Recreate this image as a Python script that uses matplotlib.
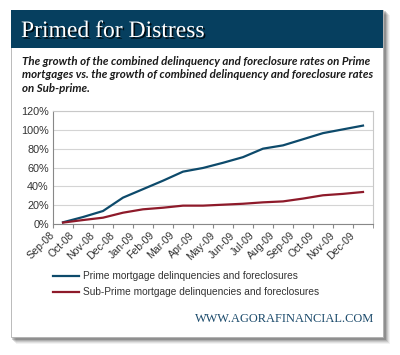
import matplotlib.pyplot as plt
from matplotlib.patches import Rectangle
import matplotlib.patheffects as pe

months = ['Sep-08', 'Oct-08', 'Nov-08', 'Dec-08', 'Jan-09', 'Feb-09', 'Mar-09', 'Apr-09',
          'May-09', 'Jun-09', 'Jul-09', 'Aug-09', 'Sep-09', 'Oct-09', 'Nov-09', 'Dec-09']
prime = [1.8, 7.4, 13.8, 28, 37, 46, 55.6, 59.5, 65, 71, 80, 83.5, 90, 96.5, 100.5, 104.5]
subprime = [1.5, 4.2, 6.7, 12, 15.6, 17.3, 19.5, 19.5, 20.5, 21.5, 23, 24, 27, 30.5, 32, 34]
yticks = [0, 20, 40, 60, 80, 100, 120]

W, H = 400, 355
fig = plt.figure(figsize=(W / 100, H / 100), dpi=100)
fig.patch.set_facecolor('white')

# card background in pixel coords
bg = fig.add_axes([0, 0, 1, 1])
bg.set_xlim(0, W)
bg.set_ylim(H, 0)
bg.axis('off')

# soft drop shadow
for i, a in enumerate([0.05, 0.07, 0.1, 0.13, 0.18]):
    off = 6 - i
    bg.add_patch(Rectangle((11 + off - 1, 10 + off - 1), 372 + 2, 327 + 2,
                           facecolor='black', alpha=a, edgecolor='none'))
bg.add_patch(Rectangle((11, 10), 372, 327, facecolor='white', edgecolor='#b0b0b0', lw=0.6))
bg.add_patch(Rectangle((11, 10), 372, 38, facecolor='#063f5f', edgecolor='none'))

bg.text(21, 37, 'Primed for Distress', family='Liberation Serif', fontsize=17,
        color='white', va='baseline', ha='left',
        path_effects=[pe.withSimplePatchShadow(offset=(1.2, -1.2), shadow_rgbFace='black', alpha=0.8)])

subtitle = ('The growth of the combined delinquency and foreclosure rates on Prime\n'
            'mortgages vs. the growth of combined delinquency and foreclosure rates\n'
            'on Sub-prime.')
bg.text(22, 56, subtitle, family='Lato', fontsize=8.3, fontweight='bold', style='italic',
        color='#1a1a1a', va='top', ha='left', linespacing=1.25)

bg.text(374, 322, 'WWW.AGORAFINANCIAL.COM', family='Liberation Serif', fontsize=8.9,
        color='#1b4a6b', va='baseline', ha='right')

# legend
bg.plot([53, 79], [276, 276], color='#0d4a6b', lw=1.6)
bg.plot([53, 79], [292, 292], color='#8e1a2a', lw=1.6)
bg.text(83, 276, 'Prime mortgage delinquencies and foreclosures', family='Liberation Sans',
        fontsize=7.3, color='#333333', va='center', ha='left')
bg.text(83, 292, 'Sub-Prime mortgage delinquencies and foreclosures', family='Liberation Sans',
        fontsize=7.3, color='#333333', va='center', ha='left')

# chart
ax = fig.add_axes([53 / W, 1 - 224 / H, 320 / W, 113 / H])
x = list(range(len(months)))
ax.plot(x, prime, color='#0d4a6b', lw=1.6, zorder=3)
ax.plot(x, subprime, color='#8e1a2a', lw=1.6, zorder=3)
ax.set_xlim(-0.5, len(months) - 0.5)
ax.set_ylim(0, 120)
ax.set_yticks(yticks)
ax.set_yticklabels([f'{v}%' for v in yticks], family='Liberation Sans', fontsize=7.8, color='#333333')
ax.grid(axis='y', color='#d4d4d4', lw=0.8)
ax.set_axisbelow(True)

ax.set_xticks([i - 0.5 for i in x])
ax.set_xticklabels(months, rotation=45, ha='right', va='center', rotation_mode='anchor',
                   family='Liberation Sans', fontsize=7.6, color='#333333')
ax.set_xticks([len(months) - 0.5], minor=True)
ax.tick_params(axis='x', which='both', length=3, color='#888888', direction='out', pad=4)
ax.tick_params(axis='y', length=0, pad=3)
for side in ['top', 'right']:
    ax.spines[side].set_color('#c8c8c8')
    ax.spines[side].set_linewidth(0.8)
ax.spines['left'].set_color('#888888')
ax.spines['bottom'].set_color('#888888')
ax.spines['left'].set_linewidth(0.8)
ax.spines['bottom'].set_linewidth(0.8)

fig.savefig('out.png', dpi=100)
